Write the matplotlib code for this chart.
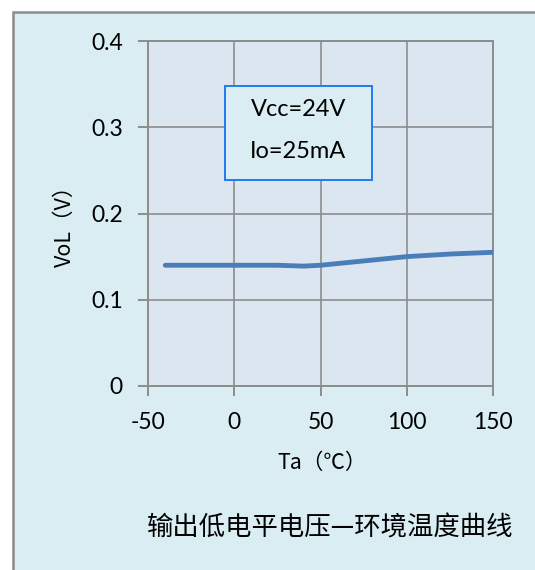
import matplotlib
matplotlib.use("Agg")
import matplotlib.pyplot as plt
from matplotlib.patches import Rectangle

plt.rcParams["font.family"] = ["Lato", "Noto Sans CJK SC", "DejaVu Sans"]
plt.rcParams["axes.unicode_minus"] = False

# data
temps = [-40, 0, 25, 40, 50, 75, 100, 125, 150]
vol = [0.140, 0.140, 0.140, 0.139, 0.140, 0.145, 0.150, 0.153, 0.155]
x_ticks = [-50, 0, 50, 100, 150]
y_ticks = [0, 0.1, 0.2, 0.3, 0.4]
y_tick_labels = ["0", "0.1", "0.2", "0.3", "0.4"]
cond_lines = ["Vcc=24V", "Io=25mA"]

W, H = 535, 570
outer_bg = "#DAEDF3"
plot_bg = "#DCE6F1"
grid_c = "#8C8C8C"
line_c = "#4A7EBB"
cjk = ["Noto Sans CJK SC", "DejaVu Sans"]

fig = plt.figure(figsize=(W / 100, H / 100), dpi=100)
fig.patch.set_facecolor("white")
fig.patches.append(
    Rectangle((13 / W, -0.1), 1.2, 1 - 12 / H + 0.1, transform=fig.transFigure,
              facecolor=outer_bg, edgecolor=grid_c, linewidth=1.8, zorder=-10)
)

ax = fig.add_axes([148 / W, 1 - 386 / H, 345 / W, 345 / H])
ax.set_facecolor(plot_bg)
ax.plot(temps, vol, color=line_c, linewidth=3.5, solid_capstyle="round",
        solid_joinstyle="round", zorder=3)

ax.set_xlim(-50, 150)
ax.set_ylim(0, 0.4)
ax.set_xticks(x_ticks)
ax.set_yticks(y_ticks)
ax.set_yticklabels(y_tick_labels)
ax.grid(True, color=grid_c, linewidth=1.2)
ax.set_axisbelow(True)
for s in ax.spines.values():
    s.set_color(grid_c)
    s.set_linewidth(1.4)
ax.tick_params(axis="both", direction="out", length=7, width=1.4, color=grid_c,
               labelsize=16.5, labelcolor="black")
ax.tick_params(axis="x", pad=11.5)
ax.tick_params(axis="y", pad=11)

ax.set_xlabel("Ta（℃）", fontsize=15.5, family=cjk, va="center")
ax.xaxis.set_label_coords((322 - 148) / 345, (386 - 463) / 345)
ax.set_ylabel("VoL（V）", fontsize=15.5, family=cjk, va="center")
ax.yaxis.set_label_coords((65 - 148) / 345, (386 - 221) / 345)

# condition box
ax.add_patch(Rectangle((0.2232, 0.597), 0.4261, 0.2726, transform=ax.transAxes,
                       facecolor=outer_bg, edgecolor="#1F7BF0", linewidth=1.4, zorder=4))
ax.text(0.436, (386 - 110) / 345, cond_lines[0], transform=ax.transAxes,
        ha="center", va="center", fontsize=17, zorder=5)
ax.text(0.436, (386 - 152) / 345, cond_lines[1], transform=ax.transAxes,
        ha="center", va="center", fontsize=17, zorder=5)

fig.text(330 / W, 1 - 528 / H, "输出低电平电压—环境温度曲线", ha="center", va="center",
         fontsize=19, family=cjk)

fig.savefig("out.png", dpi=100)
